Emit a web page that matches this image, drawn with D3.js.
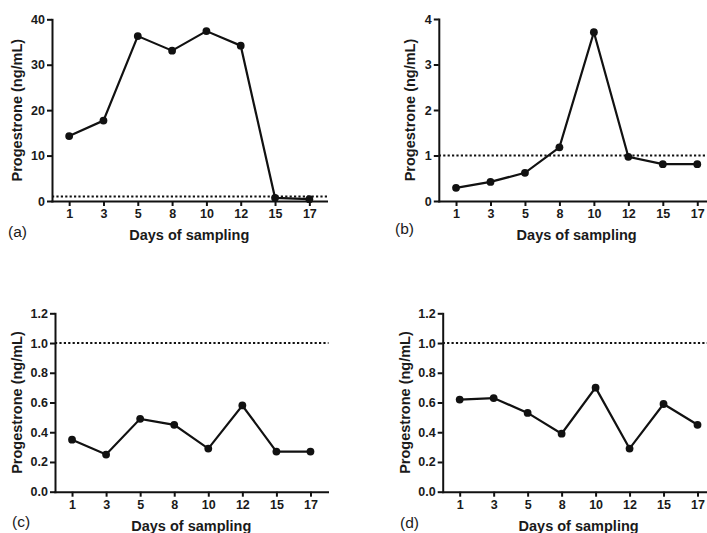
<!DOCTYPE html>
<html>
<head>
<meta charset="utf-8">
<script src="https://cdn.jsdelivr.net/npm/d3@7"></script>
<style>
  body { margin: 0; background: #fff; }
  svg { display: block; font-family: "Liberation Sans", Arial, sans-serif; }
  .tick text { font-size: 12.5px; font-weight: bold; fill: #1a1a1a; }
  .axis path, .axis line { stroke: #111; stroke-width: 2px; }
  .title { font-size: 14.5px; font-weight: bold; fill: #1a1a1a; }
  .panel-label { font-size: 15.5px; fill: #1a1a1a; }
</style>
</head>
<body>
<div id="chart"></div>
<script>
// data
const days = ['1', '3', '5', '8', '10', '12', '15', '17'];
const seriesA = [14.3, 17.7, 36.3, 33.1, 37.4, 34.2, 0.7, 0.4];
const seriesB = [0.29, 0.42, 0.62, 1.18, 3.71, 0.97, 0.81, 0.81];
const seriesC = [0.35, 0.25, 0.49, 0.45, 0.29, 0.58, 0.27, 0.27];
const seriesD = [0.62, 0.63, 0.53, 0.39, 0.70, 0.29, 0.59, 0.45];
const ticksA = [0, 10, 20, 30, 40];
const ticksB = [0, 1, 2, 3, 4];
const ticksCD = [0, 0.2, 0.4, 0.6, 0.8, 1.0, 1.2];
const threshold = 1;
const labels = ['(a)', '(b)', '(c)', '(d)'];

const W = 707, H = 533;

// panel frames: [left, right, top, bottom] of plot area
const panels = [
    { frame: [52, 326.5, 19.3, 201],   values: seriesA, ticks: ticksA,  fmt: d3.format('d'),   yLabelX: 21.5, tag: [8, 237] },
    { frame: [438.8, 714.5, 19, 201],  values: seriesB, ticks: ticksB,  fmt: d3.format('d'),   yLabelX: 415,  tag: [395, 234] },
    { frame: [55, 327.5, 313.3, 491.7], values: seriesC, ticks: ticksCD, fmt: d3.format('.1f'), yLabelX: 21.5, tag: [12, 527] },
    { frame: [442.7, 714.5, 313.3, 491.7], values: seriesD, ticks: ticksCD, fmt: d3.format('.1f'), yLabelX: 409.5, tag: [400, 528] }
];

const svg = d3.select('#chart').append('svg')
    .attr('width', W)
    .attr('height', H);

panels.forEach((p, i) => {
    const [x0, x1, y0, y1] = p.frame;
    const g = svg.append('g');

    const scaleX = d3.scalePoint(days, [x0, x1]).padding(0.5);
    const scaleY = d3.scaleLinear([0, d3.max(p.ticks)], [y1, y0]);

    // threshold line
    g.append('line')
        .attr('x1', x0).attr('x2', x1 + 1)
        .attr('y1', scaleY(threshold)).attr('y2', scaleY(threshold))
        .attr('stroke', '#111')
        .attr('stroke-width', 2)
        .attr('stroke-dasharray', '2.2,2.2');

    g.append('g')
        .attr('class', 'axis')
        .attr('transform', `translate(0,${y1})`)
        .call(d3.axisBottom(scaleX).tickSize(5).tickSizeOuter(0).tickPadding(3));

    g.append('g')
        .attr('class', 'axis')
        .attr('transform', `translate(${x0},0)`)
        .call(d3.axisLeft(scaleY).tickValues(p.ticks).tickFormat(p.fmt)
            .tickSize(5).tickSizeOuter(0).tickPadding(2));

    g.selectAll('.domain').attr('stroke-linecap', 'square');

    const lineGen = d3.line()
        .x((d, j) => scaleX(days[j]))
        .y(d => scaleY(d));

    g.append('path')
        .datum(p.values)
        .attr('d', lineGen)
        .attr('fill', 'none')
        .attr('stroke', '#111')
        .attr('stroke-width', 2.2);

    g.selectAll('circle')
        .data(p.values)
        .join('circle')
        .attr('cx', (d, j) => scaleX(days[j]))
        .attr('cy', d => scaleY(d))
        .attr('r', 3.9)
        .attr('fill', '#111');

    // axis titles
    g.append('text')
        .attr('class', 'title')
        .attr('x', (x0 + x1) / 2)
        .attr('y', y1 + 39)
        .attr('text-anchor', 'middle')
        .text('Days of sampling');

    g.append('text')
        .attr('class', 'title')
        .attr('transform', `translate(${p.yLabelX},${(y0 + y1) / 2})rotate(-90)`)
        .attr('text-anchor', 'middle')
        .text('Progestrone (ng/mL)');

    g.append('text')
        .attr('class', 'panel-label')
        .attr('x', p.tag[0])
        .attr('y', p.tag[1])
        .text(labels[i]);
});
</script>
</body>
</html>
